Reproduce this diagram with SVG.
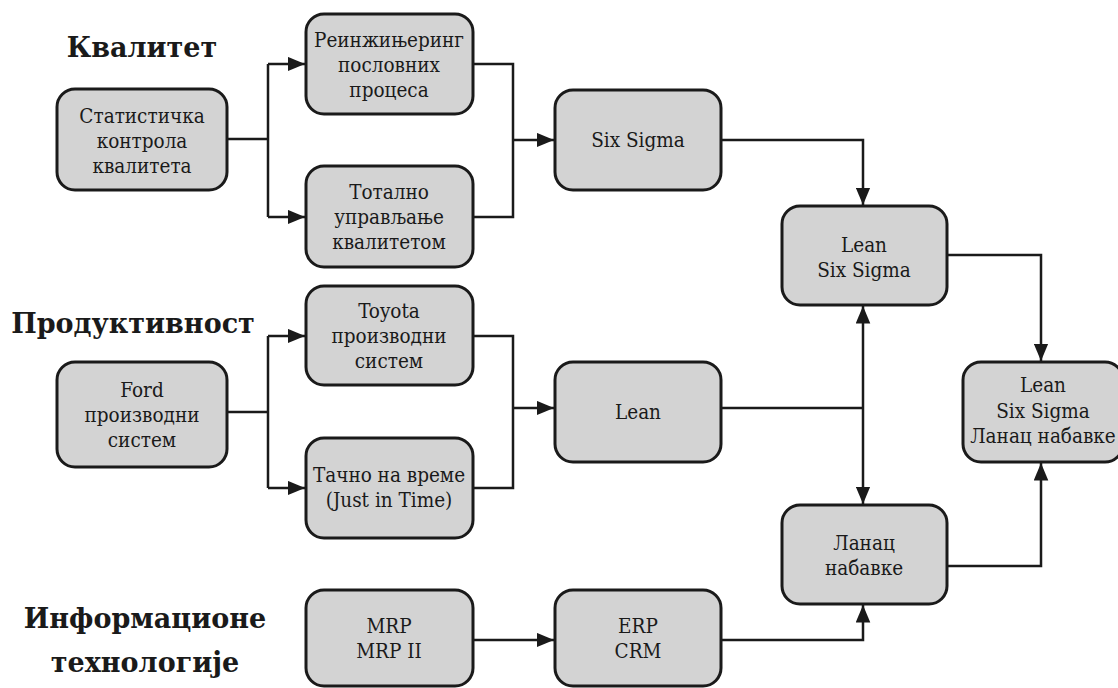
<svg xmlns="http://www.w3.org/2000/svg" width="1118" height="688" viewBox="0 0 1118 688">
<style>
.box{fill:#d3d3d3;stroke:#1a1a1a;stroke-width:3}
.t{font-family:'DejaVu Serif Condensed','DejaVu Serif',serif;font-stretch:condensed;font-size:20.5px;fill:#1a1a1a;text-anchor:middle}
.h{font-family:'DejaVu Serif','Liberation Serif',serif;font-size:27px;font-weight:bold;fill:#1a1a1a;text-anchor:middle}
.c{fill:none;stroke:#1a1a1a;stroke-width:2.5}
</style>
<defs>
<marker id="ar" viewBox="0 0 12 10" refX="12" refY="5" markerWidth="7" markerHeight="6" markerUnits="strokeWidth" orient="auto">
<path d="M0,0 L12,5 L0,10 z" fill="#1a1a1a"/>
</marker>
</defs>
<rect width="1118" height="688" fill="#fff"/>
<g id="labels">
<text class="h" x="142" y="57">Квалитет</text>
<text class="h" x="133" y="333">Продуктивност</text>
<text class="h" x="145" y="628">Информационе</text>
<text class="h" x="145" y="672">технологије</text>
</g>
<g id="connectors">
<path class="c" d="M227,139 H268 M268,64 V217"/>
<path class="c" d="M268,64 H305" marker-end="url(#ar)"/>
<path class="c" d="M268,217 H305" marker-end="url(#ar)"/>
<path class="c" d="M473,64 H513 V217 H473"/>
<path class="c" d="M513,140 H554" marker-end="url(#ar)"/>
<path class="c" d="M721,140 H863 V205" marker-end="url(#ar)"/>
<path class="c" d="M721,408 H863"/>
<path class="c" d="M863,408 V306" marker-end="url(#ar)"/>
<path class="c" d="M863,408 V504" marker-end="url(#ar)"/>
<path class="c" d="M947,255 H1041 V361" marker-end="url(#ar)"/>
<path class="c" d="M947,566 H1041 V463" marker-end="url(#ar)"/>
<path class="c" d="M227,412 H268 M268,336 V488"/>
<path class="c" d="M268,336 H305" marker-end="url(#ar)"/>
<path class="c" d="M268,488 H305" marker-end="url(#ar)"/>
<path class="c" d="M473,336 H513 V488 H473"/>
<path class="c" d="M513,408 H554" marker-end="url(#ar)"/>
<path class="c" d="M473,640 H554" marker-end="url(#ar)"/>
<path class="c" d="M721,640 H863 V605" marker-end="url(#ar)"/>
</g>
<g id="stat"><rect class="box" x="57" y="89" width="170" height="101" rx="18"/>
<text class="t" x="142" y="123">Статистичка</text><text class="t" x="142" y="148">контрола</text><text class="t" x="142" y="173">квалитета</text></g>
<g id="reeng"><rect class="box" x="306" y="14" width="167" height="100" rx="18"/>
<text class="t" x="389" y="47">Реинжињеринг</text><text class="t" x="389" y="72">пословних</text><text class="t" x="389" y="97">процеса</text></g>
<g id="tqm"><rect class="box" x="306" y="166" width="167" height="101" rx="18"/>
<text class="t" x="389" y="199">Тотално</text><text class="t" x="389" y="224">управљање</text><text class="t" x="389" y="249">квалитетом</text></g>
<g id="sixsigma"><rect class="box" x="555" y="90" width="166" height="100" rx="18"/>
<text class="t" x="638" y="147">Six Sigma</text></g>
<g id="lss"><rect class="box" x="782" y="206" width="165" height="99" rx="18"/>
<text class="t" x="864" y="252">Lean</text><text class="t" x="864" y="277">Six Sigma</text></g>
<g id="toyota"><rect class="box" x="306" y="286" width="167" height="99" rx="18"/>
<text class="t" x="389" y="318">Toyota</text><text class="t" x="389" y="343">производни</text><text class="t" x="389" y="368">систем</text></g>
<g id="ford"><rect class="box" x="57" y="362" width="170" height="105" rx="18"/>
<text class="t" x="142" y="397">Ford</text><text class="t" x="142" y="422">производни</text><text class="t" x="142" y="447">систем</text></g>
<g id="jit"><rect class="box" x="306" y="438" width="167" height="100" rx="18"/>
<text class="t" x="389" y="482">Тачно на време</text><text class="t" x="389" y="507">(Just in Time)</text></g>
<g id="lean"><rect class="box" x="555" y="362" width="166" height="100" rx="18"/>
<text class="t" x="638" y="419">Lean</text></g>
<g id="lssl"><rect class="box" x="963" y="362" width="160" height="100" rx="18"/>
<text class="t" x="1043" y="392">Lean</text><text class="t" x="1043" y="418">Six Sigma</text><text class="t" x="1043" y="443">Ланац набавке</text></g>
<g id="lanac"><rect class="box" x="782" y="505" width="165" height="99" rx="18"/>
<text class="t" x="864" y="550">Ланац</text><text class="t" x="864" y="575">набавке</text></g>
<g id="mrp"><rect class="box" x="306" y="590" width="167" height="96" rx="18"/>
<text class="t" x="389" y="633">MRP</text><text class="t" x="389" y="658">MRP II</text></g>
<g id="erp"><rect class="box" x="555" y="590" width="166" height="96" rx="18"/>
<text class="t" x="638" y="633">ERP</text><text class="t" x="638" y="658">CRM</text></g>
</svg>
